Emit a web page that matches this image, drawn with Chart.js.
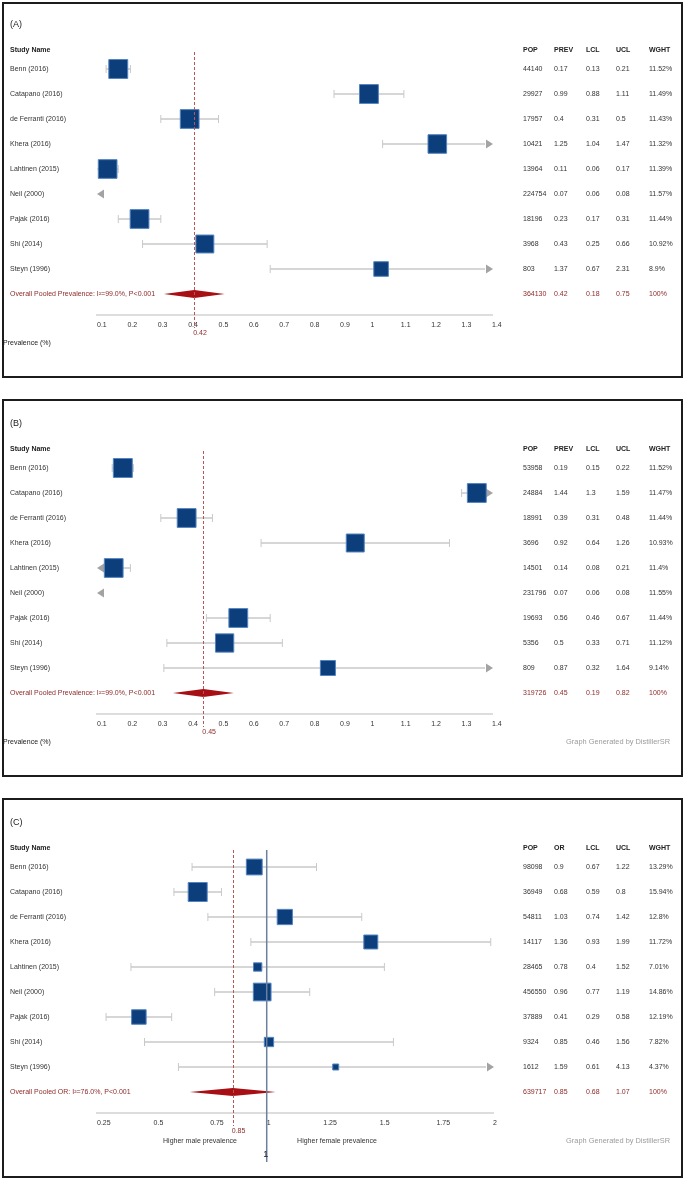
<!DOCTYPE html>
<html>
<head>
<meta charset="utf-8">
<script src="https://cdn.jsdelivr.net/npm/chart.js@4.4.1/dist/chart.umd.min.js"></script>
<style>
  html, body { margin: 0; padding: 0; background: #fff; }
  body { width: 685px; height: 1180px; position: relative; overflow: hidden; }
  canvas { position: absolute; left: 0; }
  .frame { position: absolute; left: 2px; width: 681px; border: 2px solid #1c1c1c; box-sizing: border-box; pointer-events: none; }
</style>
</head>
<body>
<canvas id="panel-a" width="685" height="380" style="top:-2px"></canvas>
<canvas id="panel-b" width="685" height="380" style="top:397px"></canvas>
<canvas id="panel-c" width="685" height="380" style="top:796px"></canvas>
<div class="frame" style="top:2px;height:376px"></div>
<div class="frame" style="top:399px;height:378px"></div>
<div class="frame" style="top:798px;height:380px"></div>
<script>
// study names are the same in all three panels
const studies = ["Benn (2016)", "Catapano (2016)", "de Ferranti (2016)", "Khera (2016)",
  "Lahtinen (2015)", "Neil (2000)", "Pajak (2016)", "Shi (2014)", "Steyn (1996)"];

// (A)
const popA  = ["44140", "29927", "17957", "10421", "13964", "224754", "18196", "3968", "803"];
const estA  = [0.17, 0.99, 0.4, 1.25, 0.11, 0.07, 0.23, 0.43, 1.37];
const lclA  = [0.13, 0.88, 0.31, 1.04, 0.06, 0.06, 0.17, 0.25, 0.67];
const uclA  = [0.21, 1.11, 0.5, 1.47, 0.17, 0.08, 0.31, 0.66, 2.31];
const wghtA = [11.52, 11.49, 11.43, 11.32, 11.39, 11.57, 11.44, 10.92, 8.9];
const pooledA = ["364130", 0.42, 0.18, 0.75, 100];
const diamondA = [0.32, 0.52];

// (B)
const popB  = ["53958", "24884", "18991", "3696", "14501", "231796", "19693", "5356", "809"];
const estB  = [0.19, 1.44, 0.39, 0.92, 0.14, 0.07, 0.56, 0.5, 0.87];
const lclB  = [0.15, 1.3, 0.31, 0.64, 0.08, 0.06, 0.46, 0.33, 0.32];
const uclB  = [0.22, 1.59, 0.48, 1.26, 0.21, 0.08, 0.67, 0.71, 1.64];
const wghtB = [11.52, 11.47, 11.44, 10.93, 11.4, 11.55, 11.44, 11.12, 9.14];
const pooledB = ["319726", 0.45, 0.19, 0.82, 100];
const diamondB = [0.35, 0.55];

// (C)
const popC  = ["98098", "36949", "54811", "14117", "28465", "456550", "37889", "9324", "1612"];
const estC  = [0.9, 0.68, 1.03, 1.36, 0.78, 0.96, 0.41, 0.85, 1.59];
const lclC  = [0.67, 0.59, 0.74, 0.93, 0.4, 0.77, 0.29, 0.46, 0.61];
const uclC  = [1.22, 0.8, 1.42, 1.99, 1.52, 1.19, 0.58, 1.56, 4.13];
const wghtC = [13.29, 15.94, 12.8, 11.72, 7.01, 14.86, 12.19, 7.82, 4.37];
const pooledC = ["639717", 0.85, 0.68, 1.07, 100];
const diamondC = [0.66, 1.04];

const ticksAB = [0.1, 0.2, 0.3, 0.4, 0.5, 0.6, 0.7, 0.8, 0.9, 1, 1.1, 1.2, 1.3, 1.4];
const ticksC = [0.25, 0.5, 0.75, 1, 1.25, 1.5, 1.75, 2];

const FONT = "'Liberation Sans', Arial, sans-serif";
const FS = 7;
const TXT = "#333333";
const RED_TXT = "#8e2a2a";
const COLS = [523, 554, 586, 616, 649];

function txt(ctx, s, x, y, color, size, bold, align) {
  ctx.save();
  ctx.font = (bold ? "bold " : "") + size + "px " + FONT;
  ctx.fillStyle = color;
  ctx.textAlign = align || "left";
  ctx.textBaseline = "middle";
  ctx.fillText(s, x, y);
  ctx.restore();
}

// box sits in the middle of the visible part of the interval
function boxX(lo, hi, min, max) {
  if (hi < min || lo > max) return NaN;
  return (Math.max(lo, min) + Math.min(hi, max)) / 2;
}

const forestPlugin = {
  id: "forest",
  beforeDatasetsDraw(chart) {
    const p = chart.config.options.panel;
    const ctx = chart.ctx;
    const xs = chart.scales.x, ys = chart.scales.y;
    const min = xs.min, max = xs.max;

    for (let i = 0; i < studies.length; i++) {
      const y = ys.getPixelForValue(i);
      const lo = p.lcl[i], hi = p.ucl[i];
      let x1 = xs.getPixelForValue(Math.max(lo, min));
      let x2 = xs.getPixelForValue(Math.min(hi, max));
      const leftCut = lo < min, rightCut = hi > max;
      ctx.save();
      ctx.strokeStyle = "#c9c9c9";
      ctx.lineWidth = 1.5;
      if (!(hi < min || lo > max)) {
        if (leftCut) x1 += 7;
        if (rightCut) x2 -= 7;
        ctx.beginPath();
        ctx.moveTo(x1, y);
        ctx.lineTo(x2, y);
        ctx.stroke();
        ctx.lineWidth = 1;
        if (!leftCut) { ctx.beginPath(); ctx.moveTo(x1, y - 4); ctx.lineTo(x1, y + 4); ctx.stroke(); }
        if (!rightCut) { ctx.beginPath(); ctx.moveTo(x2, y - 4); ctx.lineTo(x2, y + 4); ctx.stroke(); }
      }
      ctx.fillStyle = "#a3a3a3";
      if (leftCut) {
        const t = xs.getPixelForValue(min);
        ctx.beginPath(); ctx.moveTo(t, y); ctx.lineTo(t + 7, y - 4.5); ctx.lineTo(t + 7, y + 4.5); ctx.closePath(); ctx.fill();
      }
      if (rightCut) {
        const t = xs.getPixelForValue(max) + 1;
        ctx.beginPath(); ctx.moveTo(t, y); ctx.lineTo(t - 7, y - 4.5); ctx.lineTo(t - 7, y + 4.5); ctx.closePath(); ctx.fill();
      }
      ctx.restore();
    }

    // pooled diamond
    const yd = ys.getPixelForValue(9);
    const dl = xs.getPixelForValue(p.diamond[0]);
    const dr = xs.getPixelForValue(p.diamond[1]);
    const dc = xs.getPixelForValue(p.pooled[1]);
    ctx.save();
    ctx.fillStyle = "#a70f14";
    ctx.beginPath();
    ctx.moveTo(dl, yd); ctx.lineTo(dc, yd - 4); ctx.lineTo(dr, yd); ctx.lineTo(dc, yd + 4);
    ctx.closePath(); ctx.fill();
    ctx.restore();
  },
  afterDatasetsDraw(chart) {
    const p = chart.config.options.panel;
    const ctx = chart.ctx;
    const xs = chart.scales.x;
    const top = chart.chartArea.top;
    ctx.save();
    if (p.nullLine) {
      const x1 = xs.getPixelForValue(1);
      ctx.strokeStyle = "#6c7f9c";
      ctx.lineWidth = 1.5;
      ctx.beginPath(); ctx.moveTo(x1, top + 8); ctx.lineTo(x1, top + 320); ctx.stroke();
    }
    const xp = Math.round(xs.getPixelForValue(p.pooled[1])) + 0.5;
    ctx.strokeStyle = "#b85656";
    ctx.lineWidth = 1;
    ctx.setLineDash([3, 2]);
    ctx.beginPath(); ctx.moveTo(xp, top + 8); ctx.lineTo(xp, top + 284); ctx.stroke();
    ctx.restore();
  },
  afterDraw(chart) {
    const p = chart.config.options.panel;
    const ctx = chart.ctx;
    const xs = chart.scales.x, ys = chart.scales.y;

    txt(ctx, p.letter, 10, 27, "#222", 9, false);
    txt(ctx, "Study Name", 10, 52, "#222", FS, true);
    const heads = ["POP", p.estHead, "LCL", "UCL", "WGHT"];
    heads.forEach((h, k) => txt(ctx, h, COLS[k], 52, "#222", FS, true));

    for (let i = 0; i < studies.length; i++) {
      const y = ys.getPixelForValue(i);
      txt(ctx, studies[i], 10, y, TXT, FS, false);
      const row = [p.pop[i], String(p.est[i]), String(p.lcl[i]), String(p.ucl[i]), p.wght[i] + "%"];
      row.forEach((v, k) => txt(ctx, v, COLS[k], y, TXT, FS, false));
    }
    const yo = ys.getPixelForValue(9);
    txt(ctx, p.overall, 10, yo, RED_TXT, FS, false);
    const orow = [p.pooled[0], String(p.pooled[1]), String(p.pooled[2]), String(p.pooled[3]), p.pooled[4] + "%"];
    orow.forEach((v, k) => txt(ctx, v, COLS[k], yo, RED_TXT, FS, false));

    const xp = xs.getPixelForValue(p.pooled[1]);
    txt(ctx, String(p.pooled[1]), xp - 1, 335, RED_TXT, FS, false);

    if (p.axisTitle) txt(ctx, p.axisTitle, 3, 345, "#222", FS, false);
    if (p.footer) txt(ctx, "Graph Generated by DistillerSR", 670, 345, "#9b9b9b", 7.4, false, "right");
    if (p.nullLine) {
      txt(ctx, "Higher male prevalence", 200, 345, TXT, FS, false, "center");
      txt(ctx, "Higher female prevalence", 337, 345, TXT, FS, false, "center");
      txt(ctx, "1", xs.getPixelForValue(1) - 1, 359, "#222", 9, false, "center");
    }
  }
};

function makePanel(id, p) {
  const boxes = [];
  const radii = [];
  const maxW = Math.max.apply(null, p.wght);
  for (let i = 0; i < studies.length; i++) {
    const bx = boxX(p.lcl[i], p.ucl[i], p.ticks[0], p.ticks[p.ticks.length - 1]);
    boxes.push({ x: bx, y: i });
    const side = Math.max(6, 19 * p.wght[i] / maxW);
    radii.push(side / (2 * Math.SQRT1_2));
  }

  return new Chart(document.getElementById(id).getContext("2d"), {
    type: "scatter",
    data: {
      datasets: [{
        data: boxes,
        pointStyle: "rect",
        pointRadius: radii,
        backgroundColor: "#0c3e7b",
        borderColor: "#5384c0",
        borderWidth: 1
      }]
    },
    options: {
      panel: p,
      responsive: false,
      animation: false,
      devicePixelRatio: 1,
      events: [],
      layout: { padding: { left: 97, right: p.padRight, top: 46, bottom: 33 } },
      plugins: { legend: { display: false }, tooltip: { enabled: false } },
      scales: {
        x: {
          type: "linear",
          min: p.ticks[0],
          max: p.ticks[p.ticks.length - 1],
          grid: { display: false, drawTicks: false },
          border: { display: true, color: "#dddddd", width: 2 },
          ticks: {
            align: "start", padding: 6, autoSkip: false, maxRotation: 0,
            color: TXT, font: { size: FS, family: FONT },
            callback: (v) => String(v)
          },
          afterBuildTicks: (s) => { s.ticks = p.ticks.map(v => ({ value: v })); },
          afterFit: (s) => { s.height = 30; }
        },
        y: { type: "linear", display: false, min: -1, max: 9.84, reverse: true }
      }
    },
    plugins: [forestPlugin]
  });
}

makePanel("panel-a", {
  letter: "(A)", estHead: "PREV", pop: popA, est: estA, lcl: lclA, ucl: uclA, wght: wghtA,
  pooled: pooledA, diamond: diamondA, ticks: ticksAB, padRight: 193,
  overall: "Overall Pooled Prevalence: I\u00b2=99.0%, P<0.001",
  axisTitle: "Prevalence (%)", footer: false, nullLine: false
});
makePanel("panel-b", {
  letter: "(B)", estHead: "PREV", pop: popB, est: estB, lcl: lclB, ucl: uclB, wght: wghtB,
  pooled: pooledB, diamond: diamondB, ticks: ticksAB, padRight: 193,
  overall: "Overall Pooled Prevalence: I\u00b2=99.0%, P<0.001",
  axisTitle: "Prevalence (%)", footer: true, nullLine: false
});
makePanel("panel-c", {
  letter: "(C)", estHead: "OR", pop: popC, est: estC, lcl: lclC, ucl: uclC, wght: wghtC,
  pooled: pooledC, diamond: diamondC, ticks: ticksC, padRight: 192,
  overall: "Overall Pooled OR: I\u00b2=76.0%, P<0.001",
  axisTitle: null, footer: true, nullLine: true
});
</script>
</body>
</html>
